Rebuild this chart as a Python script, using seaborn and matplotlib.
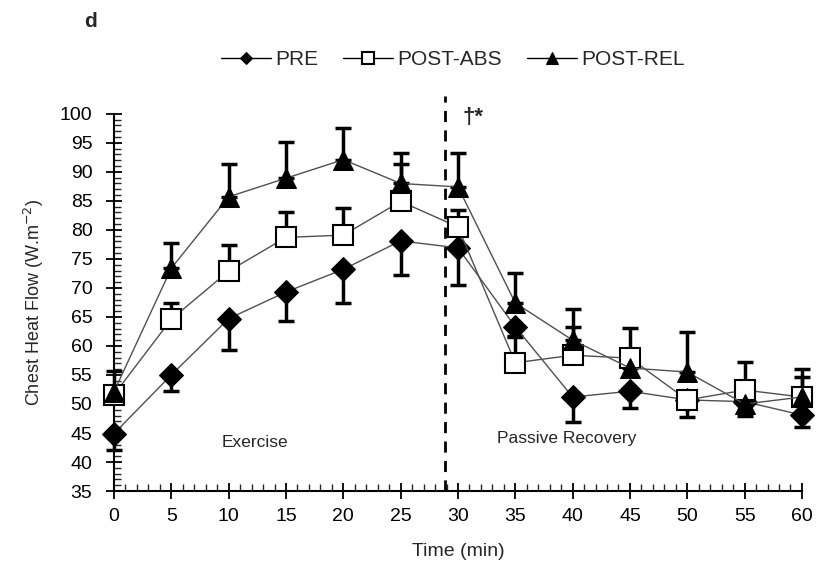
import numpy as np
import pandas as pd
import matplotlib.pyplot as plt
import seaborn as sns
from matplotlib.ticker import MultipleLocator

sns.set_style("ticks")
plt.rcParams['font.family'] = ['Liberation Sans', 'DejaVu Sans']

# data
time = [0, 5, 10, 15, 20, 25, 30, 35, 40, 45, 50, 55, 60]
pre = [44.9, 55.0, 64.7, 69.3, 73.2, 78.1, 76.9, 63.3, 51.2, 52.2, 50.7, 50.4, 48.1]
pre_err = [2.8, 2.8, 5.4, 5.0, 5.8, 5.8, 6.4, 1.5, 4.3, 2.9, 2.9, 2.4, 2.1]          # drawn downward
post_abs = [51.6, 64.6, 72.9, 78.7, 79.1, 84.9, 80.5, 57.1, 58.4, 57.9, 50.7, 52.4, 51.2]
post_abs_err = [0.5, 2.8, 4.5, 4.4, 4.6, 6.4, 3.0, 4.5, 4.9, 5.2, 1.0, 4.8, 3.5]    # drawn upward
post_rel = [52.1, 73.4, 85.7, 88.9, 92.1, 88.0, 87.4, 67.4, 61.0, 56.2, 55.5, 50.0, 51.2]
post_rel_err = [3.6, 4.3, 5.6, 6.2, 5.4, 5.3, 5.9, 5.2, 5.4, 2.5, 6.9, 1.5, 4.8]     # drawn upward
recovery_start = 28.9

df = pd.DataFrame({'time': time, 'PRE': pre, 'POST-ABS': post_abs, 'POST-REL': post_rel})
zeros = np.zeros(len(time))

fig = plt.figure(figsize=(8.2, 5.69), dpi=100)
ax = fig.add_axes([0.139, 0.137, 0.839, 0.663])

# one-sided error bars
err_kw = dict(fmt='none', ecolor='black', elinewidth=2.5, capsize=6, capthick=2.5, zorder=2, clip_on=False)
ax.errorbar(df['time'], df['PRE'], yerr=[pre_err, zeros], **err_kw)
ax.errorbar(df['time'], df['POST-ABS'], yerr=[zeros, post_abs_err], **err_kw)
ax.errorbar(df['time'], df['POST-REL'], yerr=[zeros, post_rel_err], **err_kw)

line_kw = dict(color='#505050', linewidth=1.0, markeredgecolor='black', clip_on=False, zorder=3)
sns.lineplot(data=df, x='time', y='PRE', ax=ax, marker='D', markersize=12,
             markerfacecolor='black', label='PRE', **line_kw)
sns.lineplot(data=df, x='time', y='POST-ABS', ax=ax, marker='s', markersize=15,
             markerfacecolor='white', markeredgewidth=1.5, label='POST-ABS', **line_kw)
sns.lineplot(data=df, x='time', y='POST-REL', ax=ax, marker='^', markersize=15,
             markerfacecolor='black', label='POST-REL', **line_kw)

# end of exercise
ax.plot([recovery_start, recovery_start], [35, 103], color='black', linestyle=(0, (4, 3)),
        linewidth=2, clip_on=False, zorder=1)

ax.set_xlim(0, 60)
ax.set_ylim(35, 100)
ax.xaxis.set_major_locator(MultipleLocator(5))
ax.xaxis.set_minor_locator(MultipleLocator(1))
ax.yaxis.set_major_locator(MultipleLocator(5))
ax.yaxis.set_minor_locator(MultipleLocator(1))
ax.tick_params(which='major', direction='inout', length=11, width=1.3, colors='black', labelsize=14)
ax.tick_params(which='minor', direction='in', length=5, width=1.0)
ax.tick_params(axis='y', which='major', pad=10)
ax.tick_params(axis='x', which='major', pad=7)
sns.despine(ax=ax)
for s in ['left', 'bottom']:
    ax.spines[s].set_linewidth(1.5)
    ax.spines[s].set_color('black')

ax.set_xlabel('Time (min)', fontsize=14, labelpad=13)
ax.set_ylabel('Chest Heat Flow (W.m$^{-2}$)', fontsize=13, labelpad=10)

ax.text(12.3, 43.3, 'Exercise', fontsize=12.5, ha='center', va='center')
ax.text(39.5, 44.1, 'Passive Recovery', fontsize=12.5, ha='center', va='center')
ax.text(31.3, 99.3, '†*', fontsize=16, fontweight='bold', ha='center', va='center')
fig.text(0.11, 0.962, 'd', fontsize=15, fontweight='bold', ha='center', va='center')

handles, labels = ax.get_legend_handles_labels()
leg = fig.legend(handles, labels, loc='center', bbox_to_anchor=(0.552, 0.895), ncol=3, frameon=False,
                 fontsize=15, markerscale=0.55, handlelength=2.4,
                 handletextpad=0.2, columnspacing=1.2)
for h in leg.legend_handles:
    h.set_color('black')
if ax.get_legend():
    ax.get_legend().remove()

fig.savefig('out.png', dpi=100)
